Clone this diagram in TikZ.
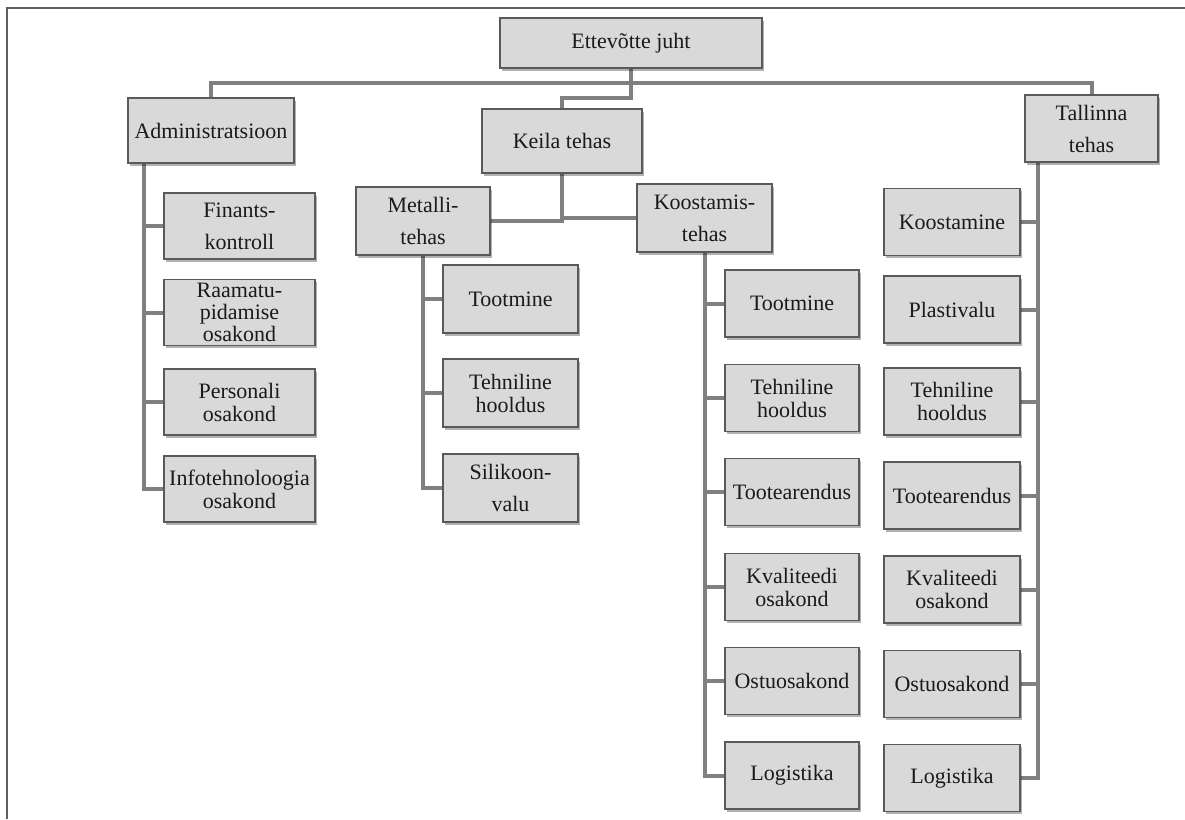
\documentclass[tikz,border=0pt]{standalone}
\usepackage{fontspec}
\setmainfont{Liberation Serif}
\usetikzlibrary{shadows}
\definecolor{boxfill}{HTML}{D9D9D9}
\definecolor{boxline}{HTML}{5A5A5A}
\definecolor{connline}{HTML}{808080}
\definecolor{frameline}{HTML}{5F5F5F}
\definecolor{txt}{HTML}{1A1A1A}
\pgfdeclarelayer{bg}
\pgfsetlayers{bg,main}
\tikzset{
  box/.style={rectangle, draw=boxline, line width=1.4pt, fill=boxfill, text=txt,
    align=center, inner sep=2pt, font=\fontsize{22}{23}\selectfont,
    drop shadow={shadow xshift=2pt, shadow yshift=-2.5pt, opacity=0.3, fill=black}},
  loose/.style={font=\fontsize{22}{32}\selectfont},
  tight/.style={font=\fontsize{22}{22}\selectfont},
  admkid/.style={box, minimum width=151pt, minimum height=66pt},
  metkid/.style={box, minimum width=135pt, minimum height=68pt},
  kookid/.style={box, minimum width=134pt, minimum height=67pt},
  talkid/.style={box, minimum width=136pt, minimum height=67pt},
  conn/.style={draw=connline, line width=4pt},
}
\begin{document}
\begin{tikzpicture}[x=1pt,y=-1pt]
\useasboundingbox (0,0) rectangle (1185,819);
% page frame (top and left edges)
\draw[frameline, line width=1.5pt] (7,819) -- (7,8) -- (1185,8);

% top level
\node[box, minimum width=262pt, minimum height=50pt] (top) at (631,43) {Ettevõtte juht};
\node[box, minimum width=166pt, minimum height=65pt] (admin) at (211,130.5) {Administratsioon};
\node[box, minimum width=160pt, minimum height=64pt] (keila) at (562,141) {Keila tehas};
\node[box, loose, minimum width=133pt, minimum height=67pt] (tal) at (1091.5,128.5) {Tallinna\\tehas};

% administration
\node[admkid, loose] (fin) at (239.5,226) {Finants-\\kontroll};
\node[admkid, tight] (raa) at (239.5,312.5) {Raamatu-\\pidamise\\osakond};
\node[admkid] (per) at (239.5,402) {Personali\\osakond};
\node[admkid] (inf) at (239.5,489) {Infotehnoloogia\\osakond};

% Keila plants
\node[box, loose, minimum width=134pt, minimum height=68pt] (met) at (423,221) {Metalli-\\tehas};
\node[box, loose, minimum width=135pt, minimum height=68pt] (koo) at (704.5,218) {Koostamis-\\tehas};

\node[metkid] (mtoo) at (510.5,299) {Tootmine};
\node[metkid] (mteh) at (510.5,393) {Tehniline\\hooldus};
\node[metkid, loose] (msil) at (510.5,488) {Silikoon-\\valu};

\node[kookid] (ktoo) at (792,303.5) {Tootmine};
\node[kookid] (kteh) at (792,398) {Tehniline\\hooldus};
\node[kookid] (kare) at (792,492) {Tootearendus};
\node[kookid] (kkva) at (792,587) {Kvaliteedi\\osakond};
\node[kookid] (kost) at (792,681) {Ostuosakond};
\node[kookid] (klog) at (792,775.5) {Logistika};

% Tallinn plant
\node[talkid] (tkoo) at (952,222) {Koostamine};
\node[talkid] (tpla) at (952,309.5) {Plastivalu};
\node[talkid] (tteh) at (952,401.5) {Tehniline\\hooldus};
\node[talkid] (tare) at (952,495.5) {Tootearendus};
\node[talkid] (tkva) at (952,589.5) {Kvaliteedi\\osakond};
\node[talkid] (tost) at (952,684) {Ostuosakond};
\node[talkid] (tlog) at (952,778) {Logistika};

\coordinate (admstem) at ([xshift=17pt]admin.south west);
\coordinate (talstem) at ([xshift=14pt]tal.south west);

\begin{pgfonlayer}{bg}
  \draw[conn] (top.south) -- ++(0,14) -| (admin.north);
  \draw[conn] (top.south) -- ++(0,14) -| (tal.north);
  \draw[conn] (top.south) -- ++(0,29) -| (keila.north);

  \draw[conn] (keila.south) |- (met.east);
  \draw[conn] (keila.south) |- (koo.west);

  \foreach \c in {fin,raa,per,inf} \draw[conn] (admstem) |- (\c.west);
  \foreach \c in {mtoo,mteh,msil} \draw[conn] (met.south) |- (\c.west);
  \foreach \c in {ktoo,kteh,kare,kkva,kost,klog} \draw[conn] (koo.south) |- (\c.west);
  \foreach \c in {tkoo,tpla,tteh,tare,tkva,tost,tlog} \draw[conn] (talstem) |- (\c.east);
\end{pgfonlayer}
\end{tikzpicture}
\end{document}
